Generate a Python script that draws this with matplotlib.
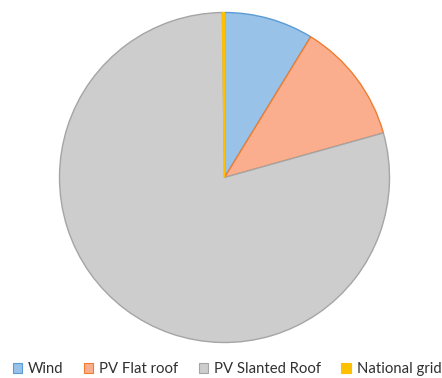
import matplotlib
matplotlib.use("Agg")
import matplotlib.pyplot as plt
from matplotlib.patches import Patch

labels = ["Wind", "PV Flat roof", "PV Slanted Roof", "National grid"]
values = [8.75, 11.9, 79.15, 0.2]
fills = ["#98C2E7", "#FBAE8E", "#CDCDCD", "#FFC000"]
edges = ["#5B9BD5", "#ED7D31", "#A5A5A5", "#FFC000"]

plt.rcParams['font.family'] = ['Lato', 'DejaVu Sans']
fig = plt.figure(figsize=(4.42, 3.78), dpi=100)
ax = fig.add_axes([0, 0, 1, 1])

wedges, _ = ax.pie(values, colors=fills, startangle=90, counterclock=False,
                   radius=165, center=(224.5, 378 - 177.5), frame=True,
                   wedgeprops=dict(linewidth=1.0))
for w, ec in zip(wedges, edges):
    w.set_edgecolor(ec)
ax.set_xlim(0, 442)
ax.set_ylim(0, 378)
ax.set_aspect('equal')
ax.axis('off')

handles = [Patch(facecolor=f, edgecolor=e, linewidth=0.8) for f, e in zip(fills, edges)]
fig.legend(handles, labels, loc='center', bbox_to_anchor=(227/442, 1 - 369/378),
           ncol=4, frameon=False, fontsize=10.7, handlelength=0.65, handleheight=0.65,
           handletextpad=0.4, columnspacing=1.35, labelcolor='#303030')
fig.savefig("out.png", dpi=100)
